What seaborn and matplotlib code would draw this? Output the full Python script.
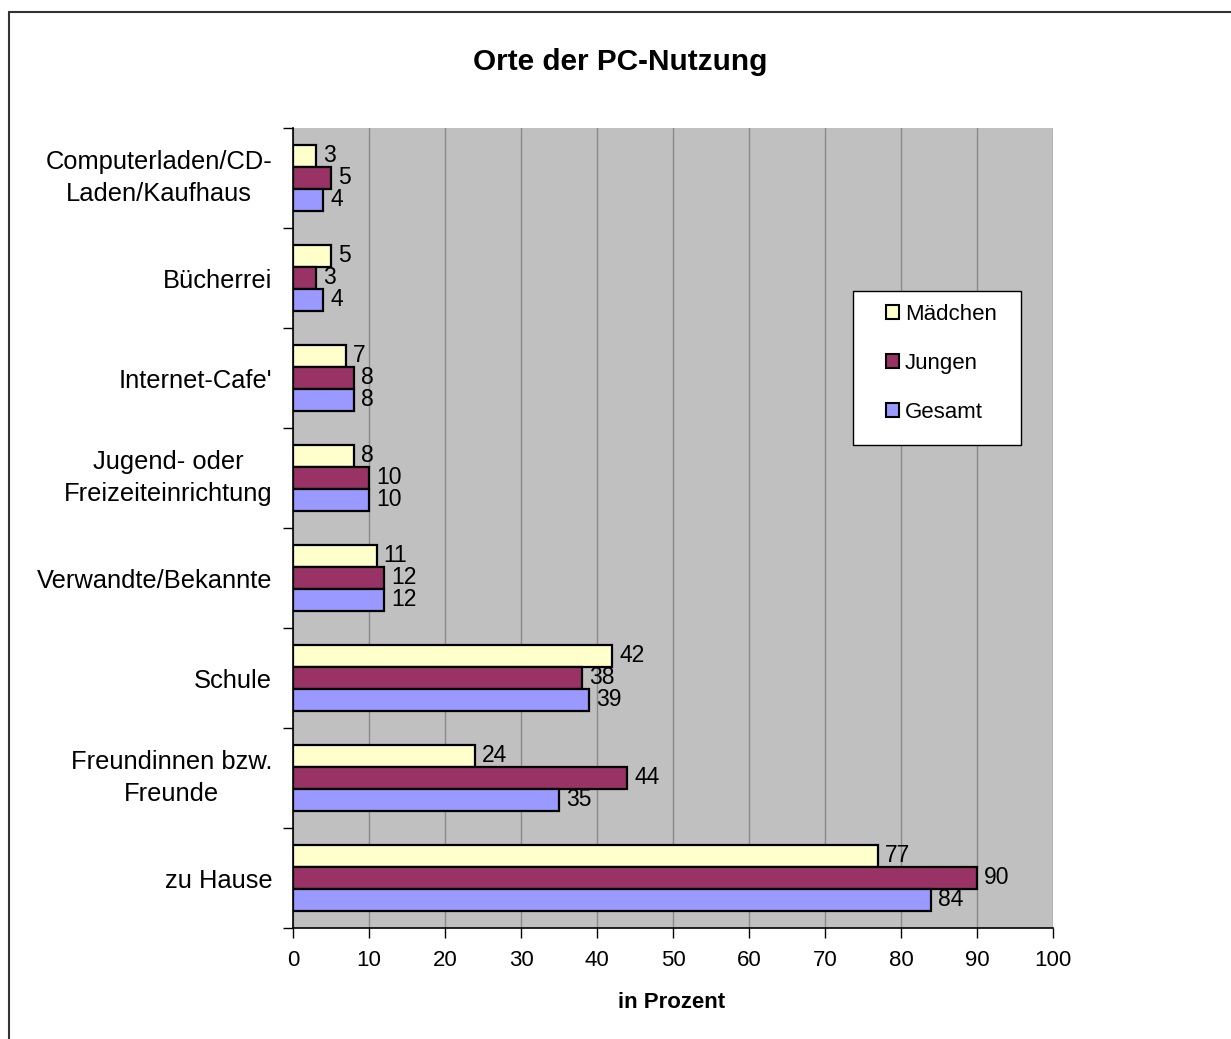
import matplotlib
matplotlib.use("Agg")
import matplotlib.pyplot as plt
import seaborn as sns
import pandas as pd
from matplotlib.patches import Rectangle

# Orte der PC-Nutzung (Angaben in Prozent)
orte = [
    "Computerladen/CD-\nLaden/Kaufhaus",
    "Bücherrei",
    "Internet-Cafe'",
    "Jugend- oder\nFreizeiteinrichtung",
    "Verwandte/Bekannte",
    "Schule",
    "Freundinnen bzw.\nFreunde",
    "zu Hause",
]
maedchen = [3, 5, 7, 8, 11, 42, 24, 77]
jungen = [5, 3, 8, 10, 12, 38, 44, 90]
gesamt = [4, 4, 8, 10, 12, 39, 35, 84]
gruppen = ["Mädchen", "Jungen", "Gesamt"]
farben = ["#FFFFCC", "#993366", "#9999FF"]
x_ticks = list(range(0, 101, 10))

df = pd.DataFrame({
    "Ort": orte * 3,
    "Gruppe": [g for g in gruppen for _ in orte],
    "Prozent": maedchen + jungen + gesamt,
})

sns.set_theme(style="white")
plt.rcParams["font.family"] = ["Liberation Sans", "DejaVu Sans"]
for key in ["text.color", "axes.labelcolor", "xtick.color", "ytick.color"]:
    plt.rcParams[key] = "black"

W, H = 1231, 1039
fig = plt.figure(figsize=(W / 100, H / 100), dpi=100)
ax = fig.add_axes([293 / W, 1 - 928 / H, (1053 - 293) / W, (928 - 128) / H])
ax.set_facecolor("#C0C0C0")

sns.barplot(
    data=df, x="Prozent", y="Ort", hue="Gruppe", order=orte, hue_order=gruppen,
    palette=farben, orient="h", width=0.66, gap=0, ax=ax,
    edgecolor="black", linewidth=1.6, saturation=1, errorbar=None, legend=True,
)

ax.set_xlim(0, 100)
ax.set_ylim(len(orte) - 0.5, -0.5)
ax.set_xticks(x_ticks)
ax.set_xticklabels([str(t) for t in x_ticks], fontsize=16)
ax.tick_params(axis="x", length=7, width=1, color="black", pad=9, direction="out",
               bottom=True)
ax.tick_params(axis="y", length=0, labelsize=18.4, pad=15)
for lbl in ax.get_yticklabels():
    if "\n" in lbl.get_text():
        lbl.set_multialignment("center")
        lbl.set_linespacing(1.4)
        lbl.set_verticalalignment("center")

# category boundary ticks on the value axis
ax.set_yticks([i + 0.5 for i in range(-1, len(orte))], minor=True)
ax.tick_params(axis="y", which="minor", length=7, width=1, color="black", left=True)

ax.grid(axis="x", color="#8A8A8A", linewidth=1)
ax.set_axisbelow(True)
for side in ["top", "right"]:
    ax.spines[side].set_visible(False)
for side in ["left", "bottom"]:
    ax.spines[side].set_color("black")
    ax.spines[side].set_linewidth(1.2)

for container in ax.containers:
    ax.bar_label(container, labels=[f"{v:g}" for v in container.datavalues],
                 padding=5, fontsize=16.5)

ax.set_ylabel("")
ax.set_xlabel("")
fig.text(672 / W, 1 - 1002 / H, "in Prozent", ha="center", va="center",
         fontsize=16, fontweight="bold")

leg = ax.legend(
    loc="upper left", bbox_to_anchor=(886 / W, 1 - 304 / H),
    bbox_transform=fig.transFigure, frameon=False, fontsize=16,
    handlelength=0.6, handleheight=0.6, handletextpad=0.25, labelspacing=1.25,
    borderpad=0, borderaxespad=0,
)
for h in leg.legend_handles:
    h.set_edgecolor("black")
    h.set_linewidth(1.5)
leg.set_zorder(6)
# legend frame
ax.add_patch(Rectangle((853 / W, 1 - 445 / H), (1021 - 853) / W, (445 - 291) / H,
                       transform=fig.transFigure, facecolor="white",
                       edgecolor="black", linewidth=1, zorder=5, clip_on=False))

fig.text(620 / W, 1 - 62 / H, "Orte der PC-Nutzung", ha="center", va="center",
         fontsize=21.4, fontweight="bold")

# outer chart frame
fig.patches.append(Rectangle((9 / W, -0.01), 1.0, 1.01 - 12 / H, transform=fig.transFigure,
                             fill=False, edgecolor="#333333", linewidth=1.5))

fig.savefig("out.png", dpi=100)
